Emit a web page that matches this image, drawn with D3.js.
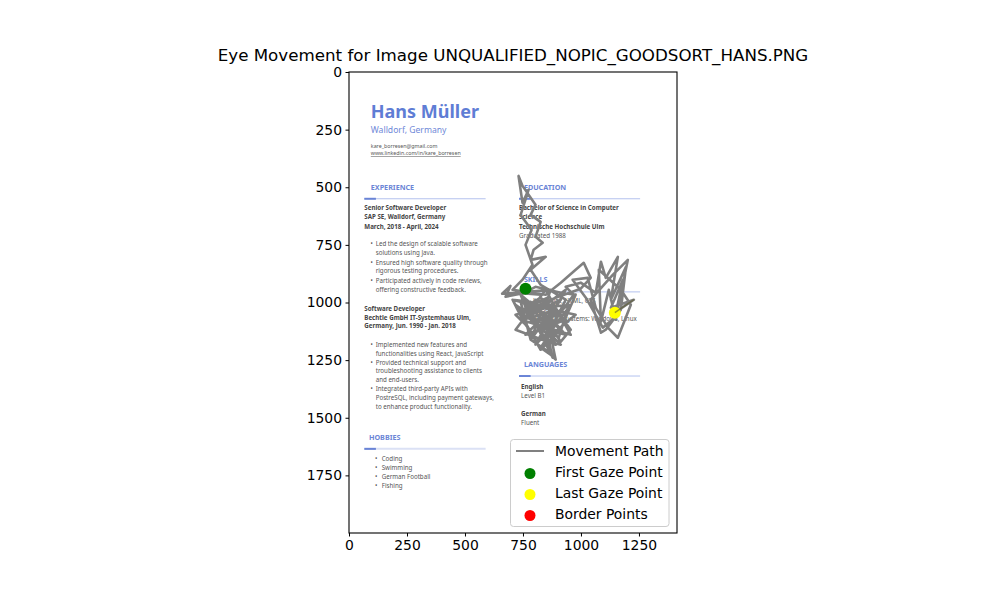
<!DOCTYPE html>
<html><head><meta charset="utf-8">
<script src="https://cdn.jsdelivr.net/npm/d3@7"></script>
<style>body{margin:0;background:#fff}svg{display:block}</style>
</head><body><svg id="c" width="1000" height="600"></svg>
<script>
// ---------- data ----------
const imageWidth = 1414, imageHeight = 2000;
const xTicks = [0, 250, 500, 750, 1000, 1250];
const yTicks = [0, 250, 500, 750, 1000, 1250, 1500, 1750];
const pathX = [761,826,718,660,696,675,783,869,848,740,913,804,718,869,934,826,783,848,783,796,835,804,826,783,804,748,731,748,774,740,787,761,791,748,705,848,913,977,1012,1042,999,891,761,826,934,869,740,783,848,891,869,913,804,761,718,826,956,891,826,869,848,783,740,804,913,977,934,848,774,826,891,956,913,848,783,705,748,826,
  783,913,740,956,848,718,891,804,934,761,869,705,826,913,783,977,848,740,891,804,934,774,856,731,904,947,813,878,852,969,
  934,999,1064,1086,1107,1159,1129,1194,1172,1107,1086,1042,1137,1202,1150,1120,1086,1077,1172,1215,1159,1116,1064,1029,964,1021,1094,1146,1181,1129,1228,1146];
const pathY = [940,966,958,962,928,975,953,945,1010,1031,1053,1075,1010,1118,988,923,858,802,815,771,741,715,650,620,576,494,451,568,511,620,685,750,836,901,945,966,914,858,828,893,940,979,1040,1109,1140,1066,997,1161,1205,1248,1140,1183,1153,1096,1053,1023,1010,1096,1196,1226,1131,1075,966,932,958,966,1066,1096,1010,979,1031,1118,1170,1075,997,988,1075,1053,
  1161,988,1075,1140,945,1118,1183,988,1075,1140,1031,988,1205,1118,1010,1053,1161,966,1096,1183,945,1066,979,1040,1153,1010,1109,1239,1127,966,
  932,914,958,823,893,802,988,845,1031,1118,1131,988,880,815,1075,945,1083,858,945,1010,1153,1109,1023,893,901,979,1109,1066,901,1023,988,1044];
const borderX = [], borderY = [];
const legendLabels = ["Movement Path", "First Gaze Point", "Last Gaze Point", "Border Points"];
const legendColors = ["gray", "green", "yellow", "red"];
const title = "Eye Movement for Image UNQUALIFIED_NOPIC_GOODSORT_HANS.PNG";

// resume image content (image coordinates)
const resumeText = [
  ["Hans Müller", 94, 200, "name"],
  ["Walldorf, Germany", 94, 265, "sub"],
  ["kare_borresen@gmail.com", 94, 328, "small"],
  ["www.linkedin.com/in/kare_borresen", 94, 362, "link"],
  ["EXPERIENCE", 94, 512, "head"],
  ["Senior Software Developer", 66, 599, "bold"],
  ["SAP SE, Walldorf, Germany", 66, 638, "bold"],
  ["March, 2018 - April, 2024", 66, 681, "bold"],
  ["•", 93, 757, "body"], ["Led the design of scalable software", 115, 757, "body"],
  ["solutions using Java.", 115, 794, "body"],
  ["•", 93, 837, "body"], ["Ensured high software quality through", 115, 837, "body"],
  ["rigorous testing procedures.", 115, 874, "body"],
  ["•", 93, 915, "body"], ["Participated actively in code reviews,", 115, 915, "body"],
  ["offering constructive feedback.", 115, 954, "body"],
  ["Software Developer", 66, 1035, "bold"],
  ["Bechtle GmbH IT-Systemhaus Ulm,", 66, 1074, "bold"],
  ["Germany, Jun. 1990 - Jan. 2018", 66, 1111, "bold"],
  ["•", 93, 1193, "body"], ["Implemented new features and", 115, 1193, "body"],
  ["functionalities using React, JavaScript", 115, 1230, "body"],
  ["•", 93, 1271, "body"], ["Provided technical support and", 115, 1271, "body"],
  ["troubleshooting assistance to clients", 115, 1308, "body"],
  ["and end-users.", 115, 1345, "body"],
  ["•", 93, 1386, "body"], ["Integrated third-party APIs with", 115, 1386, "body"],
  ["PostreSQL, including payment gateways,", 115, 1425, "body"],
  ["to enhance product functionality.", 115, 1464, "body"],
  ["HOBBIES", 86, 1596, "head"],
  ["•", 112, 1687, "body"], ["Coding", 141, 1687, "body"],
  ["•", 112, 1726, "body"], ["Swimming", 141, 1726, "body"],
  ["•", 112, 1766, "body"], ["German Football", 141, 1766, "body"],
  ["•", 112, 1805, "body"], ["Fishing", 141, 1805, "body"],
  ["EDUCATION", 754, 512, "head"],
  ["Bachelor of Science in Computer", 733, 599, "bold"],
  ["Science", 733, 638, "bold"],
  ["Technische Hochschule Ulm", 733, 681, "bold"],
  ["Graduated 1988", 733, 720, "body"],
  ["SKILLS", 754, 911, "head"],
  ["•", 763, 1002, "body"], ["JavaScript, HTML, CSS", 793, 1002, "body"],
  ["•", 763, 1041, "body"], ["MySQL", 793, 1041, "body"],
  ["•", 763, 1080, "body"], ["Operating Systems: Windows, Linux", 793, 1080, "body"],
  ["LANGUAGES", 754, 1280, "head"],
  ["English", 742, 1375, "bold"],
  ["Level B1", 742, 1414, "body"],
  ["German", 742, 1492, "bold"],
  ["Fluent", 742, 1531, "body"]
];
const resumeRules = [
  [66, 589, 550], [66, 589, 1635], [733, 1255, 550], [733, 1255, 954], [733, 1255, 1319]
];

// ---------- drawing ----------
const svg = d3.select("#c");
const L = 349, R = 677, T = 72, B = 533;
const x = d3.scaleLinear().domain([0, imageWidth]).range([L, R]);
const y = d3.scaleLinear().domain([0, imageHeight]).range([T, B]);

svg.append("rect").attr("x", L).attr("y", T).attr("width", R - L).attr("height", B - T).attr("fill", "#fff");

const styles = {
  name: {size: 18, weight: 700, fill: "#5f7dd5"},
  sub: {size: 8.6, weight: 400, fill: "#6f88d8"},
  small: {size: 5.3, weight: 400, fill: "#555"},
  link: {size: 5.3, weight: 400, fill: "#555", deco: "underline"},
  head: {size: 7.2, weight: 700, fill: "#6b85d6"},
  bold: {size: 6.2, weight: 700, fill: "#444"},
  body: {size: 6.2, weight: 400, fill: "#555"}
};
const res = svg.append("g").attr("font-family", "'Noto Sans', sans-serif");
resumeRules.forEach(r => {
  const thick = r[2] === 1635;
  res.append("line").attr("x1", x(r[0])).attr("x2", x(r[1])).attr("y1", y(r[2])).attr("y2", y(r[2]))
    .attr("stroke", thick ? "#dbe1f5" : "#b3c1ee").attr("stroke-width", thick ? 2 : 1);
  res.append("line").attr("x1", x(r[0])).attr("x2", x(r[0] + 50)).attr("y1", y(r[2])).attr("y2", y(r[2]))
    .attr("stroke", "#6a84d6").attr("stroke-width", 2);
});
resumeText.forEach(t => {
  const s = styles[t[3]];
  res.append("text").attr("x", x(t[1])).attr("y", y(t[2])).text(t[0])
    .attr("font-size", s.size).attr("font-weight", s.weight).attr("fill", s.fill)
    .attr("text-decoration", s.deco || null);
});

// movement path
const pts = pathX.map((v, i) => [v, pathY[i]]);
svg.append("path").attr("d", d3.line().x(d => x(d[0])).y(d => y(d[1]))(pts))
  .attr("fill", "none").attr("stroke", "gray").attr("stroke-width", 2.6).attr("stroke-linejoin", "round");

svg.selectAll("circle.border").data(borderX).enter().append("circle")
  .attr("cx", (d, i) => x(d)).attr("cy", (d, i) => y(borderY[i])).attr("r", 5).attr("fill", "red");
svg.append("circle").attr("cx", x(pathX[0])).attr("cy", y(pathY[0])).attr("r", 6).attr("fill", "green");
const n = pathX.length - 1;
svg.append("circle").attr("cx", x(pathX[n])).attr("cy", y(pathY[n])).attr("r", 6).attr("fill", "yellow");
svg.append("path").attr("d", d3.line().x(d => x(d[0])).y(d => y(d[1]))([[pathX[n - 1], pathY[n - 1]], [pathX[n], pathY[n]]]))
  .attr("stroke", "#5a5a30").attr("stroke-width", 1.5).attr("opacity", 0.6);

// axes
const fontAx = "'DejaVu Sans', sans-serif";
const fmt = d3.format("d");
const gx = svg.append("g").attr("transform", `translate(0,${B})`)
  .call(d3.axisBottom(x).tickValues(xTicks).tickFormat(fmt).tickSize(3.5).tickPadding(3.5).tickSizeOuter(0));
const gy = svg.append("g").attr("transform", `translate(${L},0)`)
  .call(d3.axisLeft(y).tickValues(yTicks).tickFormat(fmt).tickSize(3.5).tickPadding(3.5).tickSizeOuter(0));
[gx, gy].forEach(g => {
  g.select(".domain").remove();
  g.selectAll("line").attr("stroke", "#000").attr("stroke-width", 1);
  g.selectAll("text").attr("font-family", fontAx).attr("font-size", 13.9).attr("fill", "#000");
});
svg.append("rect").attr("x", L).attr("y", T).attr("width", R - L).attr("height", B - T)
  .attr("fill", "none").attr("stroke", "#000").attr("stroke-width", 1.1);

svg.append("text").attr("x", (L + R) / 2).attr("y", 61).attr("text-anchor", "middle")
  .attr("font-family", fontAx).attr("font-size", 16.7).text(title);

// legend
const lg = svg.append("g");
lg.append("rect").attr("x", 510.5).attr("y", 439.5).attr("width", 158.5).attr("height", 87).attr("rx", 3)
  .attr("fill", "#fff").attr("fill-opacity", 0.8).attr("stroke", "#ccc").attr("stroke-width", 1);
legendLabels.forEach((lab, i) => {
  const yy = 451 + i * 21;
  if (i === 0) {
    lg.append("line").attr("x1", 516).attr("x2", 544).attr("y1", yy).attr("y2", yy)
      .attr("stroke", legendColors[i]).attr("stroke-width", 2);
  } else {
    lg.append("circle").attr("cx", 530).attr("cy", yy + 1.5).attr("r", 5.5).attr("fill", legendColors[i]);
  }
  lg.append("text").attr("x", 555).attr("y", yy + 5).attr("font-family", fontAx).attr("font-size", 13.9).text(lab);
});
</script></body></html>
